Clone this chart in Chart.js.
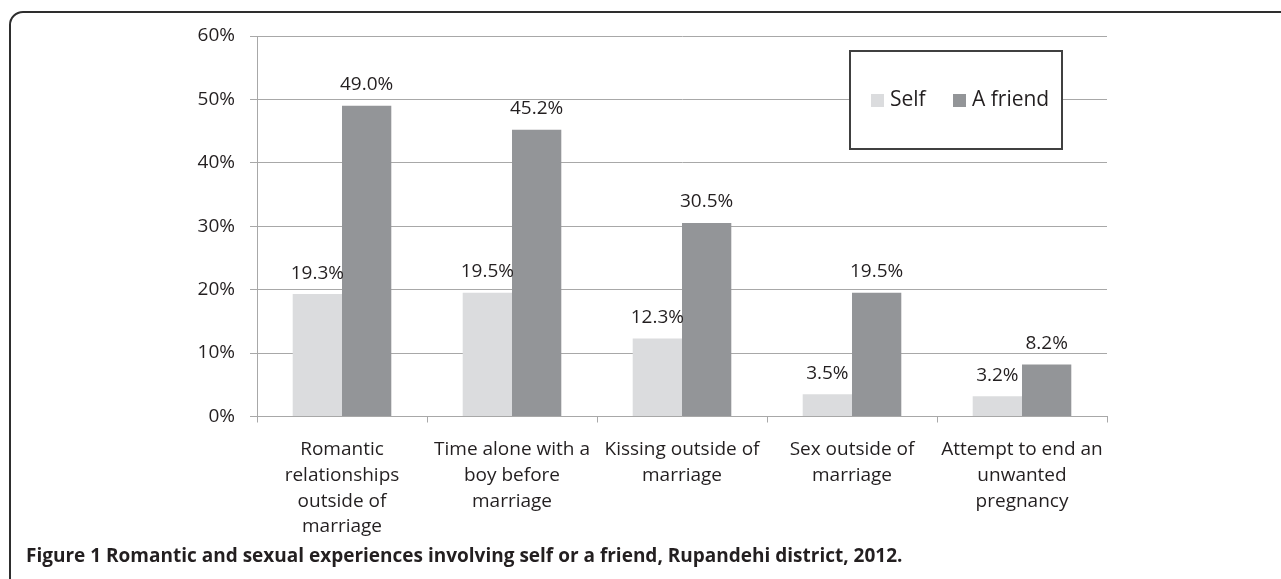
<!DOCTYPE html>
<html>
<head>
<meta charset="utf-8">
<script src="https://cdn.jsdelivr.net/npm/chart.js@4/dist/chart.umd.min.js"></script>
<style>
  html, body { margin: 0; padding: 0; background: #fff; }
  body { width: 1281px; height: 579px; position: relative; overflow: hidden; font-family: "Open Sans", sans-serif; }
  .frame {
    position: absolute; left: 9px; top: 11px; width: 1300px; height: 600px;
    border: 2px solid #2e2e2e; border-radius: 14px; box-sizing: border-box;
  }
  #wrap { position: absolute; left: 0; top: 0; width: 1281px; height: 579px; }
  .caption {
    position: absolute; left: 26px; top: 542px; font-size: 19px; font-weight: 700;
    color: #231f20; white-space: nowrap; line-height: 26px;
  }
</style>
</head>
<body>
<div class="frame"></div>
<div id="wrap"><canvas id="myChart" width="1281" height="579"></canvas></div>
<div class="caption">Figure 1 Romantic and sexual experiences involving self or a friend, Rupandehi district, 2012.</div>
<script>
// 데이터
const CATEGORIES = [
  ["Romantic", "relationships", "outside of", "marriage"],
  ["Time alone with a", "boy before", "marriage"],
  ["Kissing outside of", "marriage"],
  ["Sex outside of", "marriage"],
  ["Attempt to end an", "unwanted", "pregnancy"],
];
const SELF = [19.3, 19.5, 12.3, 3.5, 3.2];
const FRIEND = [49.0, 45.2, 30.5, 19.5, 8.2];
const Y_TICKS = [0, 10, 20, 30, 40, 50, 60];

const TEXT = "#231f20";
const GRID = "#a8a8a8";
const FONT = { family: "'Open Sans', sans-serif", size: 19 };

// 막대 위 값 표시
const valueLabels = {
  id: "valueLabels",
  afterDatasetsDraw(chart) {
    const ctx = chart.ctx;
    ctx.save();
    ctx.font = "19px 'Open Sans', sans-serif";
    ctx.fillStyle = TEXT;
    ctx.textAlign = "center";
    ctx.textBaseline = "middle";
    chart.data.datasets.forEach((ds, i) => {
      chart.getDatasetMeta(i).data.forEach((bar, j) => {
        ctx.fillText(ds.data[j].toFixed(1) + "%", bar.x, bar.y - 21);
      });
    });
    ctx.restore();
  },
};

// 범례 (테두리 박스)
const boxLegend = {
  id: "boxLegend",
  afterDraw(chart) {
    const ctx = chart.ctx;
    ctx.save();
    ctx.fillStyle = "#fff";
    ctx.fillRect(850, 51, 212, 98);
    ctx.strokeStyle = "#404040";
    ctx.lineWidth = 2;
    ctx.strokeRect(850, 51, 212, 98);
    ctx.font = "21px 'Open Sans', sans-serif";
    ctx.textBaseline = "middle";
    ctx.textAlign = "left";
    const xs = [871, 953];
    chart.data.datasets.forEach((ds, i) => {
      ctx.fillStyle = ds.backgroundColor;
      ctx.fillRect(xs[i], 94, 13, 13);
      ctx.fillStyle = TEXT;
      ctx.fillText(ds.label, xs[i] + 19, 100);
    });
    ctx.restore();
  },
};

const ctx = document.getElementById("myChart").getContext("2d");
const myChart = new Chart(ctx, {
  type: "bar",
  data: {
    labels: CATEGORIES,
    datasets: [
      { label: "Self", data: SELF, backgroundColor: "#dbdcde" },
      { label: "A friend", data: FRIEND, backgroundColor: "#939598" },
    ],
  },
  options: {
    responsive: false,
    animation: false,
    layout: { padding: { left: 0, top: 36, right: 174, bottom: 0 } },
    datasets: {
      bar: { categoryPercentage: 0.58, barPercentage: 1 },
    },
    plugins: {
      legend: { display: false },
      tooltip: { enabled: false },
    },
    scales: {
      x: {
        grid: {
          offset: true,
          drawOnChartArea: false,
          drawTicks: true,
          tickLength: 6,
          color: GRID,
        },
        border: { color: GRID, width: 1 },
        ticks: {
          color: TEXT,
          font: { ...FONT, lineHeight: 1.36 },
          maxRotation: 0,
          autoSkip: false,
          padding: 14,
        },
        afterFit: (scale) => {
          scale.height = 579 - 416.5;
        },
      },
      y: {
        min: 0,
        max: 60,
        afterBuildTicks: (scale) => {
          scale.ticks = Y_TICKS.map((v) => ({ value: v }));
        },
        grid: { color: GRID, tickLength: 7, lineWidth: 1 },
        border: { color: GRID, width: 1 },
        ticks: {
          color: TEXT,
          font: FONT,
          padding: 15,
          callback: (v) => v + "%",
        },
        afterFit: (scale) => {
          scale.width = 257;
        },
      },
    },
  },
  plugins: [valueLabels, boxLegend],
});
</script>
</body>
</html>
